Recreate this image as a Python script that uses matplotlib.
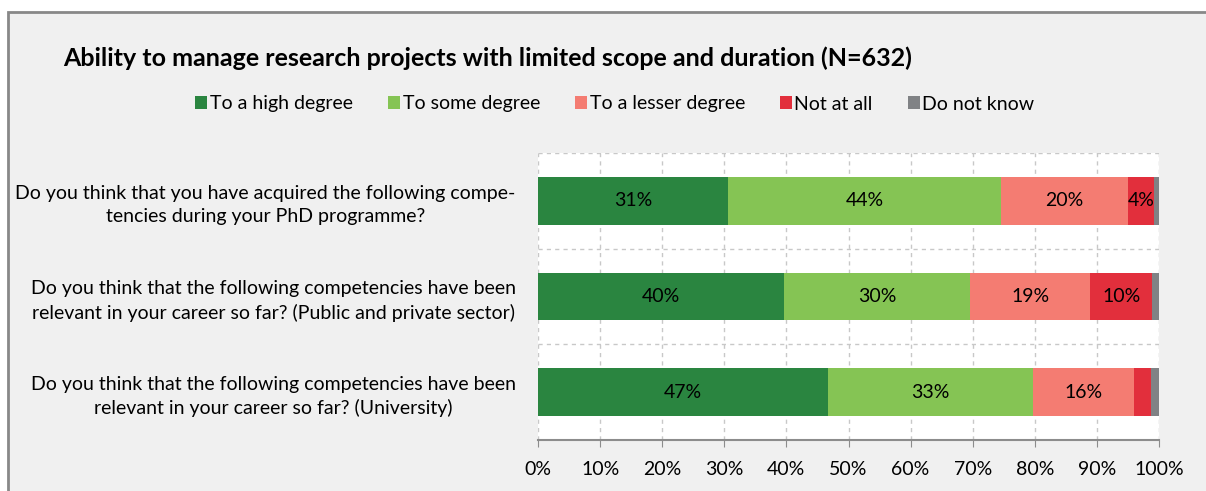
import numpy as np
import matplotlib.pyplot as plt
from matplotlib.patches import Rectangle

plt.rcParams['font.family'] = ['Lato', 'DejaVu Sans']

# data
questions = ["Do you think that you have acquired the following compe-\ntencies during your PhD programme?",
             "Do you think that the following competencies have been\nrelevant in your career so far? (Public and private sector)",
             "Do you think that the following competencies have been\nrelevant in your career so far? (University)"]
series = ["To a high degree", "To some degree", "To a lesser degree", "Not at all", "Do not know"]
high = [30.6, 39.6, 46.7]
some = [44.0, 30.0, 33.0]
lesser = [20.4, 19.3, 16.3]
not_at_all = [4.2, 10.0, 2.7]
dont_know = [0.8, 1.1, 1.3]
shown = [[31, 44, 20, 4, None], [40, 30, 19, 10, None], [47, 33, 16, None, None]]

colors = ["#2a8540", "#85c454", "#f47c72", "#e22f3c", "#808285"]

fig = plt.figure(figsize=(12.06, 4.91), dpi=100)
fig.patch.set_facecolor("white")
fig.patches.append(Rectangle((8 / 1206, -0.1), 1.2, 1.1 - 12 / 491, transform=fig.transFigure,
                             facecolor="#f0f0f0", edgecolor="#888888", linewidth=2, zorder=-10))

ax = fig.add_axes([538 / 1206, 1 - 440 / 491, 621 / 1206, 287 / 491])
ax.set_facecolor("white")

y = np.arange(len(questions))
left = np.zeros(len(questions))
for vals, name, c in zip([high, some, lesser, not_at_all, dont_know], series, colors):
    ax.barh(y, vals, left=left, height=0.5, color=c, label=name, zorder=3)
    left += np.array(vals)

left = np.zeros(len(questions))
for k, vals in enumerate([high, some, lesser, not_at_all, dont_know]):
    for i in range(len(questions)):
        if shown[i][k] is not None:
            ax.text(left[i] + vals[i] / 2, y[i], f"{shown[i][k]}%", ha="center", va="center",
                    fontsize=14, color="black", zorder=4)
    left += np.array(vals)

ax.set_xlim(0, 100)
ax.set_ylim(2.5, -0.5)
ax.set_xticks(np.arange(0, 101, 10))
ax.set_xticklabels([f"{v}%" for v in range(0, 101, 10)], fontsize=14)
ax.set_yticks(y)
ax.set_yticklabels(questions, fontsize=14, multialignment="center", linespacing=1.4)
ax.set_yticks([-0.5, 0.5, 1.5], minor=True)
ax.tick_params(axis="y", which="both", length=0, pad=16)
ax.tick_params(axis="x", length=5, color="#8c8c8c", pad=10)
ax.grid(axis="x", color="#c8c8c8", linestyle=(0, (3, 3)), linewidth=1, zorder=0)
ax.grid(axis="y", which="minor", color="#c8c8c8", linestyle=(0, (3, 3)), linewidth=1, zorder=0)
for s in ["top", "left", "right"]:
    ax.spines[s].set_visible(False)
ax.spines["bottom"].set_color("#8c8c8c")
ax.spines["bottom"].set_linewidth(1.5)
ax.spines["bottom"].set_zorder(5)

fig.text(63 / 1206, 1 - 58 / 491, "Ability to manage research projects with limited scope and duration (N=632)",
         fontsize=18, fontweight="bold", va="center", ha="left")
fig.legend(loc="center", bbox_to_anchor=(615 / 1206, 1 - 104 / 491), ncol=5, frameon=False,
           fontsize=14, handlelength=0.6, handleheight=0.6, handletextpad=0.15, columnspacing=1.8)

plt.savefig("out.png", dpi=100, facecolor=fig.get_facecolor())
